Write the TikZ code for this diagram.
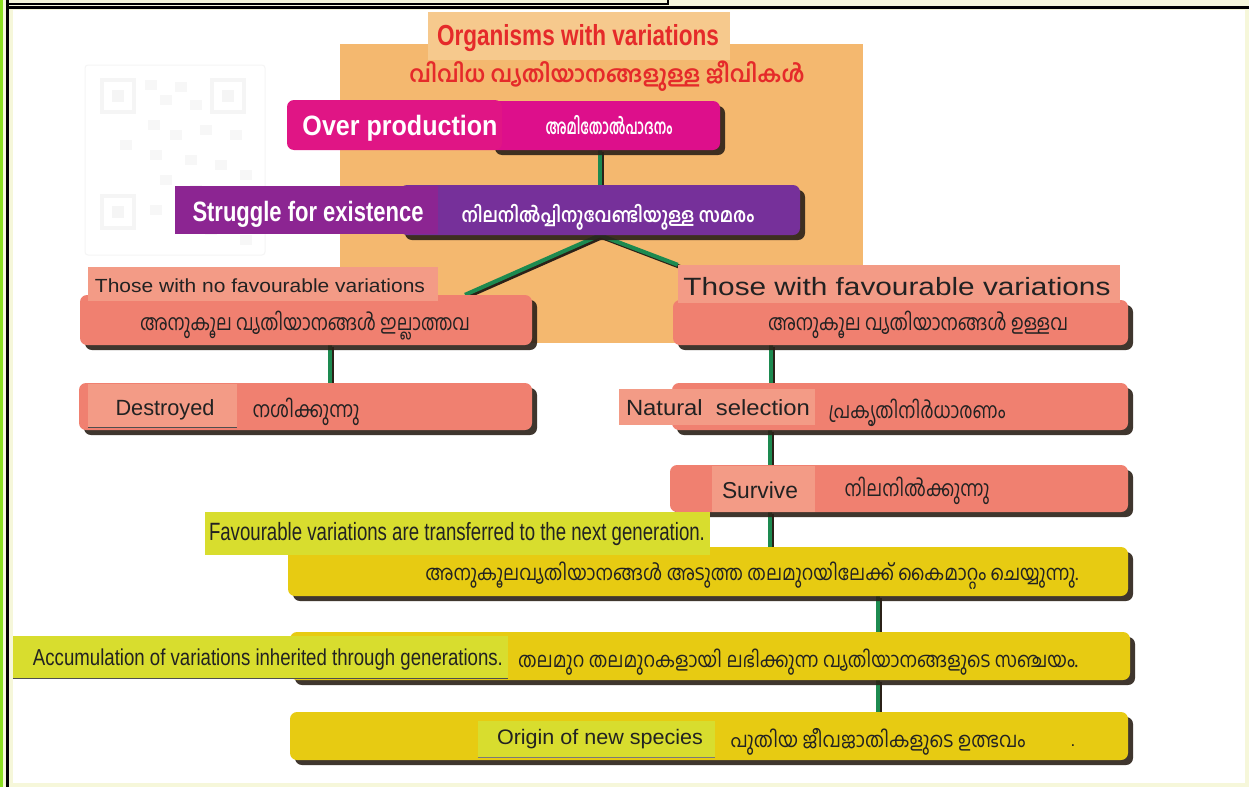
\documentclass[tikz,border=0pt]{standalone}
\usepackage{fontspec}
\setmainfont{Liberation Sans}
\newfontfamily\ml[Script=Malayalam]{Hind Kochi}
\usepackage{graphicx}
\usetikzlibrary{shadows,calc}
\definecolor{bgYel}{HTML}{F6F7DA}
\definecolor{frGreen}{HTML}{8ADF1F}
\definecolor{orBg}{HTML}{F4B86F}
\definecolor{titleBg}{HTML}{F6C98D}
\definecolor{redT}{HTML}{E52A2A}
\definecolor{magM}{HTML}{DD0F8B}
\definecolor{magL}{HTML}{E01585}
\definecolor{purM}{HTML}{76309A}
\definecolor{purL}{HTML}{8C2592}
\definecolor{salM}{HTML}{F08070}
\definecolor{salL}{HTML}{F39B86}
\definecolor{yelM}{HTML}{E7CB12}
\definecolor{yelL}{HTML}{D8DD2E}
\definecolor{lineG}{HTML}{1D8A50}
\definecolor{shadowC}{HTML}{2B2118}
\definecolor{darkT}{HTML}{222222}
\newcommand\fitw[2]{\resizebox{#1}{\height}{#2}}
\newcommand\fs[1]{\fontsize{#1}{#1}\selectfont}
\pgfdeclarelayer{back}\pgfdeclarelayer{conn}\pgfsetlayers{back,conn,main}
\begin{document}
\begin{tikzpicture}[x=1pt,y=-1pt,
  box/.style={rounded corners=7pt, inner sep=0pt, draw=none},
  shbox/.style={box, drop shadow={shadow xshift=5pt, shadow yshift=-5pt, fill=shadowC, opacity=0.9}},
  lbl/.style={inner sep=0pt, draw=none},
  txt/.style={inner sep=0pt, anchor=base},
  conn/.style={line width=4pt, draw=lineG, preaction={draw=shadowC, line width=4pt, transform canvas={xshift=2pt,yshift=-2pt}}}]
\useasboundingbox (0,0) rectangle (1249,787);
% frame
\begin{pgfonlayer}{back}
\fill[bgYel] (0,0) rectangle (1249,787);
\fill[white] (13,10) rectangle (1245,783);
\fill[frGreen] (0,0) rectangle (3,787);
\draw[black, line width=2.5pt] (7.5,-2) -- (7.5,787);
\draw[black, line width=1.6pt] (7.5,4) -- (668,4) -- (668,-2);
\draw[black, line width=3pt] (7.5,7.8) -- (1249,7.8);
% faint QR
\draw[black!4, line width=1pt, rounded corners=3pt] (85,65) rectangle (265,255);
\foreach \a/\b in {102/80, 212/80, 102/196}{
  \draw[black!4, line width=4pt] (\a,\b) rectangle ($(\a,\b)+(32,32)$);
  \fill[black!4] ($(\a,\b)+(10,10)$) rectangle ($(\a,\b)+(22,22)$);}
\foreach \a/\b in {145/80, 160/95, 175/82, 190/100, 148/120, 170/130, 200/125, 230/130, 120/140, 150/150, 185/155, 215/160, 240/170, 160/175, 190/185, 220/200, 150/205, 175/215, 205/225, 235/215, 240/235}{
  \fill[black!3] (\a,\b) rectangle ($(\a,\b)+(12,10)$);}
% orange background
\fill[orBg] (340,44) rectangle (863,343);
\end{pgfonlayer}

% title
\node[lbl, fill=titleBg, minimum width=302pt, minimum height=48pt] (titlel) at (579,36) {};
\node[txt, text=redT] (ttl) at (578,45) {\fitw{282pt}{\fs{29}\bfseries Organisms with variations}};
\node[txt, text=redT] (mttl) at (607,82) {\fitw{395pt}{\ml\fs{23}\bfseries വിവിധ വ്യതിയാനങ്ങളുള്ള ജീവികൾ}};

% over production
\node[shbox, fill=magM, minimum width=230pt, minimum height=49pt] (overm) at (605,125.5) {};
\node[box, fill=magL, minimum width=215pt, minimum height=50pt] (overl) at (394.5,125) {};
\node[txt, text=white] (tover) at (400,135) {\fitw{195pt}{\fs{28}\bfseries Over production}};
\node[txt, text=white] (mover) at (609,134) {\fitw{127pt}{\ml\fs{21}\bfseries അമിതോൽപാദനം}};

% struggle
\node[shbox, fill=purM, minimum width=400pt, minimum height=50pt] (strm) at (600,210) {};
\node[lbl, fill=purL, minimum width=263pt, minimum height=48pt] (strl) at (306.5,210) {};
\node[txt, text=white] (tstr) at (308,221) {\fitw{231pt}{\fs{28}\bfseries Struggle for existence}};
\node[txt, text=white] (mstr) at (608,222) {\fitw{293pt}{\ml\fs{20}\bfseries നിലനിൽപ്പിനുവേണ്ടിയുള്ള സമരം}};

% no favourable
\node[shbox, fill=salM, minimum width=452pt, minimum height=50pt] (nofm) at (306,320) {};
\node[lbl, fill=salL, minimum width=350pt, minimum height=34pt] (nofl) at (263,284) {};
\node[txt, text=darkT] (tnof) at (260,292) {\fitw{330pt}{\fs{19}Those with no favourable variations}};
\node[txt, text=darkT] (mnof) at (305,330) {\fitw{330pt}{\ml\fs{22}അനുകൂല വ്യതിയാനങ്ങൾ ഇല്ലാത്തവ}};

% destroyed
\node[shbox, fill=salM, minimum width=453pt, minimum height=47pt] (desm) at (305.5,406.5) {};
\node[lbl, fill=salL, minimum width=149pt, minimum height=43pt] (desl) at (162.5,405.5) {};
\draw[darkT!80, line width=1pt] (desl.south west) -- (desl.south east);
\node[txt, text=darkT] (tdes) at (165,415) {\fitw{99pt}{\fs{22}Destroyed}};
\node[txt, text=darkT] (mdes) at (306,417) {\fitw{107pt}{\ml\fs{22}നശിക്കുന്നു}};

% favourable
\node[shbox, fill=salM, minimum width=455pt, minimum height=45pt] (favm) at (900.5,322.5) {};
\node[lbl, fill=salL, minimum width=442pt, minimum height=38pt] (favl) at (899,284) {};
\node[txt, text=darkT] (tfav) at (897,295) {\fitw{427pt}{\fs{25}Those with favourable variations}};
\node[txt, text=darkT] (mfav) at (918,330) {\fitw{300pt}{\ml\fs{22}അനുകൂല വ്യതിയാനങ്ങൾ ഉള്ളവ}};

% natural selection
\node[shbox, fill=salM, minimum width=456pt, minimum height=47pt] (nsm) at (900,406.5) {};
\node[lbl, fill=salL, minimum width=196pt, minimum height=36pt] (nsl) at (717,407) {};
\node[txt, text=darkT] (tns) at (718,415) {\fitw{184pt}{\fs{22}Natural\ \ selection}};
\node[txt, text=darkT] (mns) at (917,418) {\fitw{177pt}{\ml\fs{22}പ്രകൃതിനിർധാരണം}};

% survive
\node[shbox, fill=salM, minimum width=458pt, minimum height=47pt] (survm) at (899,488.5) {};
\node[lbl, fill=salL, minimum width=103pt, minimum height=46pt] (survl) at (763.5,489) {};
\node[txt, text=darkT] (tsurv) at (760,498) {\fitw{76pt}{\fs{23}Survive}};
\node[txt, text=darkT] (msurv) at (917,496) {\fitw{145pt}{\ml\fs{22}നിലനിൽക്കുന്നു}};

% yellow 1
\node[shbox, fill=yelM, minimum width=840pt, minimum height=49pt] (y1m) at (708,571.5) {};
\node[lbl, fill=yelL, minimum width=505pt, minimum height=43pt] (y1l) at (457.5,533.5) {};
\node[txt, text=darkT] (ty1) at (457,540) {\fitw{496pt}{\fs{25}Favourable variations are transferred to the next generation.}};
\node[txt, text=darkT] (my1) at (752,580) {\fitw{653pt}{\ml\fs{21}അനുകൂലവ്യതിയാനങ്ങൾ അടുത്ത തലമുറയിലേക്ക് കൈമാറ്റം ചെയ്യുന്നു.}};

% yellow 2
\node[shbox, fill=yelM, minimum width=840pt, minimum height=48pt] (y2m) at (710,656) {};
\node[lbl, fill=yelL, minimum width=495pt, minimum height=42pt] (y2l) at (260.5,657) {};
\draw[darkT!80, line width=1pt] (y2l.south west) -- (y2l.south east);
\node[txt, text=darkT] (ty2) at (268,665) {\fitw{470pt}{\fs{23}Accumulation of variations inherited through generations.}};
\node[txt, text=darkT] (my2) at (798,667) {\fitw{560pt}{\ml\fs{21}തലമുറ തലമുറകളായി ലഭിക്കുന്ന വ്യതിയാനങ്ങളുടെ സഞ്ചയം.}};

% yellow 3
\node[shbox, fill=yelM, minimum width=838pt, minimum height=48pt] (y3m) at (709,736) {};
\node[lbl, fill=yelL, minimum width=237pt, minimum height=36pt] (y3l) at (596.5,739) {};
\draw[darkT!60, line width=0.8pt] (y3l.south west) -- (y3l.south east);
\node[txt, text=darkT] (ty3) at (600,744) {\fitw{206pt}{\fs{21}Origin of new species}};
\node[txt, text=darkT] (my3) at (878,747) {\fitw{295pt}{\ml\fs{21}പുതിയ ജീവജാതികളുടെ ഉത്ഭവം}};
\node[txt, text=darkT] (dot3) at (1073,746) {\fs{17}.};

% connectors
\begin{pgfonlayer}{conn}
\draw[conn] ([xshift=-5pt]overm.south) -- ([xshift=-5pt]overm.south |- strm.north);
\draw[conn] (strm.south) -- ([xshift=159pt]nofm.north);
\draw[conn] (strm.south) -- (favl.north west);
\draw[conn] ([xshift=24pt]nofm.south) -- ([xshift=24pt]nofm.south |- desm.north);
\draw[conn] ([xshift=-130pt]favm.south) -- ([xshift=-130pt]favm.south |- nsm.north);
\draw[conn] ([xshift=-130pt]nsm.south) -- ([xshift=-130pt]nsm.south |- survm.north);
\draw[conn] ([xshift=-129pt]survm.south) -- ([xshift=-129pt]survm.south |- y1m.north);
\draw[conn] ([xshift=170pt]y1m.south) -- ([xshift=170pt]y1m.south |- y2m.north);
\draw[conn] ([xshift=168pt]y2m.south) -- ([xshift=168pt]y2m.south |- y3m.north);
\end{pgfonlayer}
\end{tikzpicture}
\end{document}
